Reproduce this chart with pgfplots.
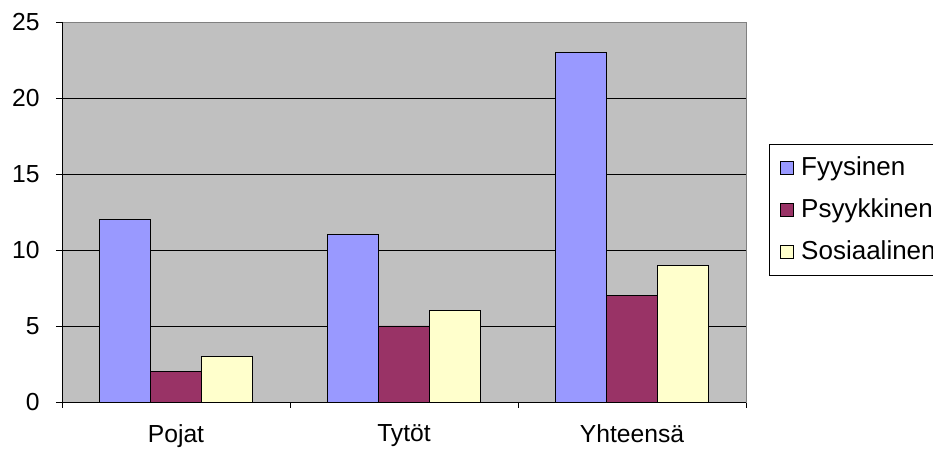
\documentclass[border=0pt]{standalone}
\usepackage{pgfplots}
\pgfplotsset{compat=1.18}
\usepackage{fontspec}
\setmainfont{Liberation Sans}
\definecolor{fyy}{HTML}{9999FF}
\definecolor{psy}{HTML}{993366}
\definecolor{sos}{HTML}{FFFFCC}
\definecolor{bg}{HTML}{C0C0C0}
\begin{document}
\fontsize{18.5pt}{22pt}\selectfont
\begin{tikzpicture}
\useasboundingbox (-46.5pt,-37.5pt) rectangle (653.25pt,301.5pt);
\begin{axis}[
  at={(0,0)}, anchor=south west,
  width=513pt, height=285pt, scale only axis,
  ybar=0pt, bar width=38.25pt,
  xmin=-0.5, xmax=2.5, ymin=0, ymax=25,
  xtick={0,1,2}, xticklabels={Pojat,Tytöt,Yhteensä},
  major x tick style={draw=none},
  minor xtick={-0.5,0.5,1.5,2.5},
  minor x tick style={black},
  minor tick length=4.5pt,
  ytick={0,5,10,15,20,25},
  major tick length=4.5pt,
  tick align=outside,
  ytick style={black},
  xtick pos=bottom, ytick pos=left,
  ymajorgrids, grid style={black, line width=0.6pt},
  axis background/.style={fill=bg},
  axis line style={draw=gray},
  /pgf/number format/assume math mode=true,
  tick label style={font=\fontsize{18.5pt}{22pt}\selectfont},
  xticklabel style={yshift=-6pt},
  yticklabel style={xshift=-6pt},
  legend style={at={(rel axis cs:1.0336,0.68)}, anchor=north west,
    draw=black, fill=white, font=\fontsize{19.5pt}{23pt}\selectfont,
    row sep=10.5pt, inner xsep=5pt, inner ysep=7.5pt},
  legend cell align=left,
  legend image code/.code={\draw[#1,draw=black,line width=0.6pt] (0pt,-4.9pt) rectangle (9.75pt,4.9pt);
    \path[draw=none,fill=none] (-3pt,0pt) -- (14pt,0pt);},
  clip=false,
]
\addplot[fill=fyy, draw=black, line width=0.6pt] coordinates {(0,12) (1,11) (2,23)};
\addplot[fill=psy, draw=black, line width=0.6pt] coordinates {(0,2) (1,5) (2,7)};
\addplot[fill=sos, draw=black, line width=0.6pt] coordinates {(0,3) (1,6) (2,9)};
\legend{Fyysinen,Psyykkinen,Sosiaalinen}
\draw[black, line width=0.6pt] (rel axis cs:0,1) -- (rel axis cs:0,0) -- (rel axis cs:1,0);
\end{axis}
\end{tikzpicture}
\end{document}
